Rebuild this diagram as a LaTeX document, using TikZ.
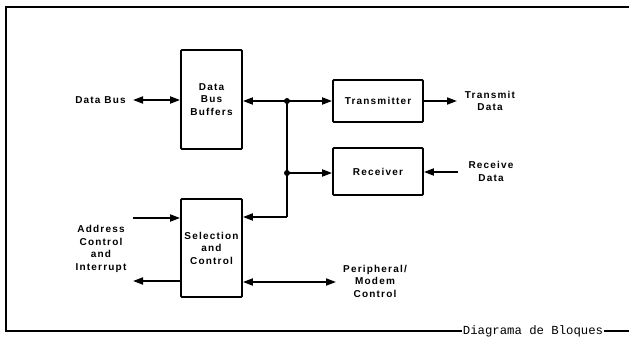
\documentclass[tikz,border=0pt]{standalone}
\usepackage{fontspec}
\setmainfont{Liberation Sans}
\newfontfamily\lblfont[LetterSpace=12]{Liberation Sans}
\newfontfamily\capfont{Liberation Mono}
\usetikzlibrary{arrows.meta}
\tikzset{
  blk/.style={draw, line width=1.8pt, rounded corners=1pt, inner sep=0pt},
  lbl/.style={font=\lblfont\bfseries\fontsize{10}{12.5}\selectfont, align=center, inner sep=0pt},
  wire/.style={line width=1.8pt},
  arr/.style={wire, -{Triangle[length=10pt,width=7pt]}},
  darr/.style={wire, {Triangle[length=10pt,width=7pt]}-{Triangle[length=10pt,width=7pt]}},
  dot/.style={circle, fill, inner sep=0pt, minimum size=6pt},
}
\begin{document}
\begin{tikzpicture}[x=1pt,y=-1pt]
\useasboundingbox (0,0) rectangle (629,337);
% frame
\draw[line width=1.8pt] (629,7) -- (6,7) -- (6,331) -- (629,331);
\node[font=\capfont\fontsize{12.3}{14}\selectfont, fill=white, inner xsep=1pt, inner ysep=1pt, anchor=base] (cap) at (533,334) {Diagrama de Bloques};

% blocks
\node[blk, lbl, minimum width=61pt, minimum height=99pt] (dbb) at (211.5,99.5) {Data\\Bus\\Buffers};
\node[blk, lbl, minimum width=90pt, minimum height=42pt] (tx) at (378,101) {Transmitter};
\node[blk, lbl, minimum width=90pt, minimum height=47pt] (rx) at (378,171.5) {Receiver};
\node[blk, lbl, minimum width=61pt, minimum height=98pt] (sc) at (211.5,248) {Selection\\and\\Control};

% labels
\node[lbl, anchor=east] (db) at (126,100) {Data Bus};
\node[lbl] (td) at (490,101) {Transmit\\Data};
\node[lbl] (rd) at (491,171.5) {Receive\\Data};
\node[lbl] (aci) at (101,249) {Address\\Control\\and\\Interrupt};
\node[lbl] (pmc) at (375,281) {Peripheral/\\Modem\\Control};

% free ends
\coordinate (dbr) at (133,100);
\coordinate (txo) at (457,101);
\coordinate (rxi) at (458,172);
\coordinate (ain) at (133,218);
\coordinate (aout) at (133,281);
\coordinate (pm) at (336,282);

% junctions
\node[dot] (j1) at (287,101) {};
\node[dot] (j2) at (287,173) {};
\coordinate (c3) at (287,217);

% connectors
\draw[darr] (dbr) -- (dbb.west |- dbr);
\draw[arr] (j1.center) -- (dbb.east |- j1);
\draw[arr] (j1.center) -- (tx.west |- j1);
\draw[arr] (tx.east |- txo) -- (txo);
\draw[arr] (rxi) -- (rx.east |- rxi);
\draw[arr] (j2.center) -- (rx.west |- j2);
\draw[wire] (j1.center) -- (j2.center) -- (c3);
\draw[arr] (c3) -- (sc.east |- c3);
\draw[arr] (ain) -- (sc.west |- ain);
\draw[arr] (sc.west |- aout) -- (aout);
\draw[darr] (sc.east |- pm) -- (pm);
\end{tikzpicture}
\end{document}
